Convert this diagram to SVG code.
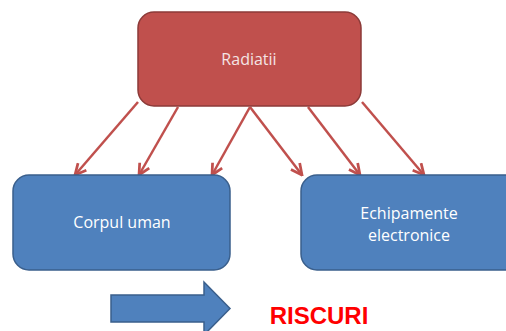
<svg xmlns="http://www.w3.org/2000/svg" width="506" height="331" viewBox="0 0 506 331">
<defs>
<style>
.lbl{font-family:"Open Sans","Noto Sans","Liberation Sans",sans-serif;font-size:16px;fill:#ffffff;text-anchor:middle}
.conn{stroke:#c0504d;stroke-width:2.5;fill:none;marker-end:url(#ah)}
.blue{fill:#4f81bd;stroke:#3a5f8c;stroke-width:1.5}
</style>
<marker id="ah" viewBox="0 0 10 10" refX="9" refY="5" markerWidth="5.5" markerHeight="5.5" orient="auto" markerUnits="strokeWidth">
<path d="M1,1 L9,5 L1,9" fill="none" stroke="#c0504d" stroke-width="2"/>
</marker>
</defs>
<g id="connectors">
<line class="conn" x1="138" y1="102" x2="75" y2="175"/>
<line class="conn" x1="178" y1="107" x2="139" y2="175"/>
<line class="conn" x1="250" y1="107" x2="212" y2="175"/>
<line class="conn" x1="250" y1="107" x2="302" y2="175"/>
<line class="conn" x1="308" y1="107" x2="360" y2="175"/>
<line class="conn" x1="362" y1="102" x2="424" y2="175"/>
</g>
<g id="radiatii">
<rect x="138" y="12" width="223" height="94" rx="16" fill="#c0504d" stroke="#8c3a38" stroke-width="1.5"/>
<text class="lbl" x="249" y="65" style="fill:#f4e4e4">Radiatii</text>
</g>
<g id="corpul">
<rect class="blue" x="13" y="175" width="217" height="95" rx="16"/>
<text class="lbl" x="122" y="228">Corpul uman</text>
</g>
<g id="echipamente">
<rect class="blue" x="301" y="175" width="220" height="95" rx="16"/>
<text class="lbl" x="409" y="219">Echipamente</text>
<text class="lbl" x="409" y="241">electronice</text>
</g>
<g id="arrow">
<path d="M111,295 L204,295 L204,282 L230,308.5 L204,335 L204,322 L111,322 Z" fill="#4f81bd" stroke="#3a5f8c" stroke-width="1.5"/>
</g>
<g id="riscuri">
<text x="319" y="324" font-family="'Liberation Sans',Arial,sans-serif" font-weight="bold" font-size="24" fill="#ff0000" text-anchor="middle">RISCURI</text>
</g>
</svg>
